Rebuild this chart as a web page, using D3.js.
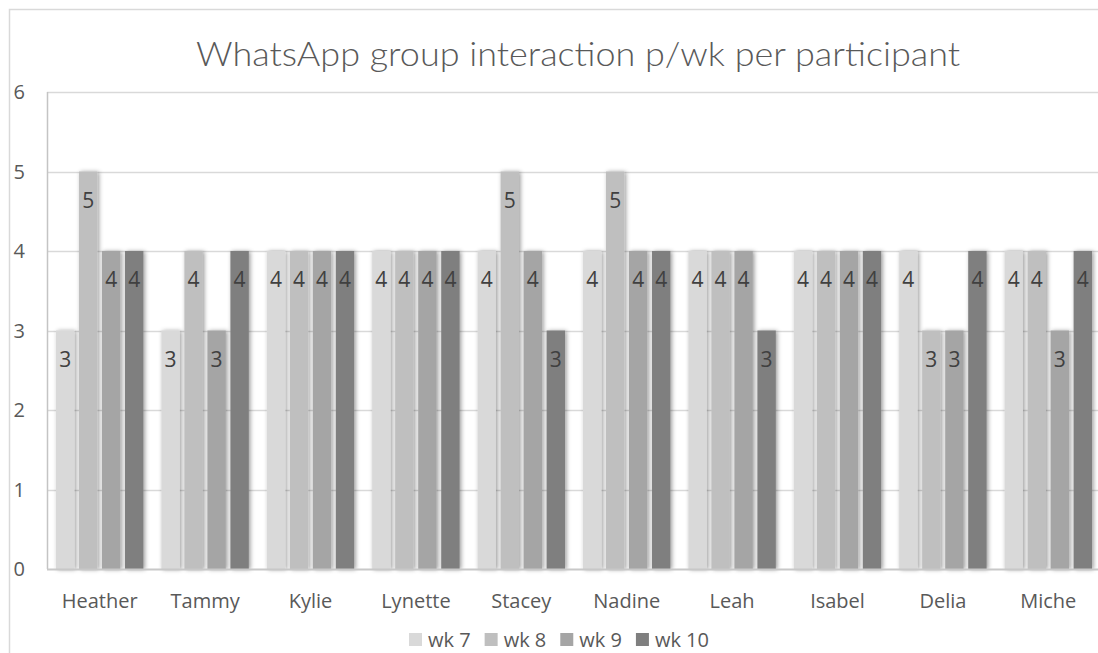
<!DOCTYPE html>
<html>
<head>
<meta charset="utf-8">
<script src="https://cdn.jsdelivr.net/npm/d3@7"></script>
<style>
  html, body { margin: 0; padding: 0; background: #fff; }
  svg { display: block; }
</style>
</head>
<body>
<svg id="chart" width="1098" height="653"></svg>
<script>
const title = "WhatsApp group interaction p/wk per participant";
const categories = ["Heather", "Tammy", "Kylie", "Lynette", "Stacey", "Nadine", "Leah", "Isabel", "Delia", "Miche"];
const seriesNames = ["wk 7", "wk 8", "wk 9", "wk 10"];
const wk7  = [3, 3, 4, 4, 4, 4, 4, 4, 4, 4];
const wk8  = [5, 4, 4, 4, 5, 5, 4, 4, 3, 4];
const wk9  = [4, 3, 4, 4, 4, 4, 4, 4, 3, 3];
const wk10 = [4, 4, 4, 4, 3, 4, 3, 4, 4, 4];
const yTicks = [0, 1, 2, 3, 4, 5, 6];
const seriesColors = ["#d9d9d9", "#bfbfbf", "#a5a5a5", "#7f7f7f"];

const seriesValues = [wk7, wk8, wk9, wk10];
const svg = d3.select("#chart");
const font = "'Open Sans', 'Liberation Sans', sans-serif";

const plot = { left: 47, right: 1101, top: 92, bottom: 569 };

// outer chart border (cropped)
svg.append("rect")
  .attr("x", 9.5).attr("y", 9.5)
  .attr("width", 1200).attr("height", 800)
  .attr("fill", "none").attr("stroke", "#d9d9d9").attr("stroke-width", 1.5);

// filter for bar shadow
const defs = svg.append("defs");
const f = defs.append("filter").attr("id", "shadow")
  .attr("x", "-40%").attr("y", "-10%").attr("width", "180%").attr("height", "120%");
f.append("feDropShadow").attr("dx", 1.5).attr("dy", 0.5)
  .attr("stdDeviation", 2.2).attr("flood-color", "#000").attr("flood-opacity", 0.4);

const y = d3.scaleLinear().domain([0, 6]).range([plot.bottom, plot.top]);
const x0 = d3.scaleBand().domain(categories).range([plot.left, plot.right]).padding(0);
const x1 = d3.scaleBand().domain(seriesNames).range([0, x0.bandwidth()])
  .paddingInner(0.2).paddingOuter(0.39);

// gridlines
svg.append("g").selectAll("line").data(yTicks.filter(t => t > 0)).join("line")
  .attr("x1", plot.left).attr("x2", plot.right)
  .attr("y1", d => Math.round(y(d)) + 0.5).attr("y2", d => Math.round(y(d)) + 0.5)
  .attr("stroke", "#d9d9d9").attr("stroke-width", 1.5);

// plot area left wall
svg.append("line")
  .attr("x1", plot.left + 0.5).attr("x2", plot.left + 0.5)
  .attr("y1", plot.top).attr("y2", plot.bottom)
  .attr("stroke", "#c4c4c4").attr("stroke-width", 1.5);

// y tick labels
svg.append("g").selectAll("text").data(yTicks).join("text")
  .attr("x", 25).attr("y", d => y(d))
  .attr("dy", "0.36em")
  .attr("text-anchor", "end")
  .attr("font-family", font).attr("font-size", 20).attr("fill", "#595959")
  .text(d => d);

// bars
const groups = svg.append("g").selectAll("g").data(categories).join("g")
  .attr("transform", d => `translate(${x0(d)},0)`);

const cellData = (cat, ci) => seriesNames.map((s, si) => ({ s, si, v: seriesValues[si][ci] }));

groups.each(function (cat, ci) {
  const g = d3.select(this);
  const cells = cellData(cat, ci);
  g.selectAll("rect").data(cells).join("rect")
    .attr("x", d => x1(d.s))
    .attr("y", d => y(d.v))
    .attr("width", x1.bandwidth())
    .attr("height", d => y(0) - y(d.v))
    .attr("fill", d => seriesColors[d.si])
    .attr("filter", "url(#shadow)");
});

// zero axis line
svg.append("line")
  .attr("x1", plot.left).attr("x2", plot.right)
  .attr("y1", plot.bottom + 0.5).attr("y2", plot.bottom + 0.5)
  .attr("stroke", "#c8c8c8").attr("stroke-width", 2);

// data labels
groups.each(function (cat, ci) {
  const g = d3.select(this);
  const cells = cellData(cat, ci);
  g.selectAll("text.lbl").data(cells).join("text")
    .attr("class", "lbl")
    .attr("x", d => x1(d.s) + x1.bandwidth() / 2)
    .attr("y", d => y(d.v) + 36)
    .attr("text-anchor", "middle")
    .attr("font-family", font).attr("font-size", 21).attr("fill", "#404040")
    .text(d => d.v);
});

// category labels
svg.append("g").selectAll("text").data(categories).join("text")
  .attr("x", d => x0(d) + x0.bandwidth() / 2)
  .attr("y", 608)
  .attr("text-anchor", "middle")
  .attr("font-family", font).attr("font-size", 20).attr("fill", "#595959")
  .text(d => d);

// title
svg.append("text")
  .attr("x", 196).attr("y", 66)
  .attr("textLength", 764).attr("lengthAdjust", "spacingAndGlyphs")
  .attr("font-family", "'Lato', 'DejaVu Sans', sans-serif")
  .attr("font-weight", 300)
  .attr("font-size", 33).attr("fill", "#595959")
  .text(title);

// legend
const legend = svg.append("g");
let lx = 409;
seriesNames.forEach((s, i) => {
  legend.append("rect").attr("x", lx).attr("y", 633).attr("width", 13).attr("height", 13)
    .attr("fill", seriesColors[i]);
  const t = legend.append("text").attr("x", lx + 19).attr("y", 647)
    .attr("font-family", font).attr("font-size", 20).attr("fill", "#595959")
    .text(s);
  lx += 19 + t.node().getComputedTextLength() + 14;
});
</script>
</body>
</html>
